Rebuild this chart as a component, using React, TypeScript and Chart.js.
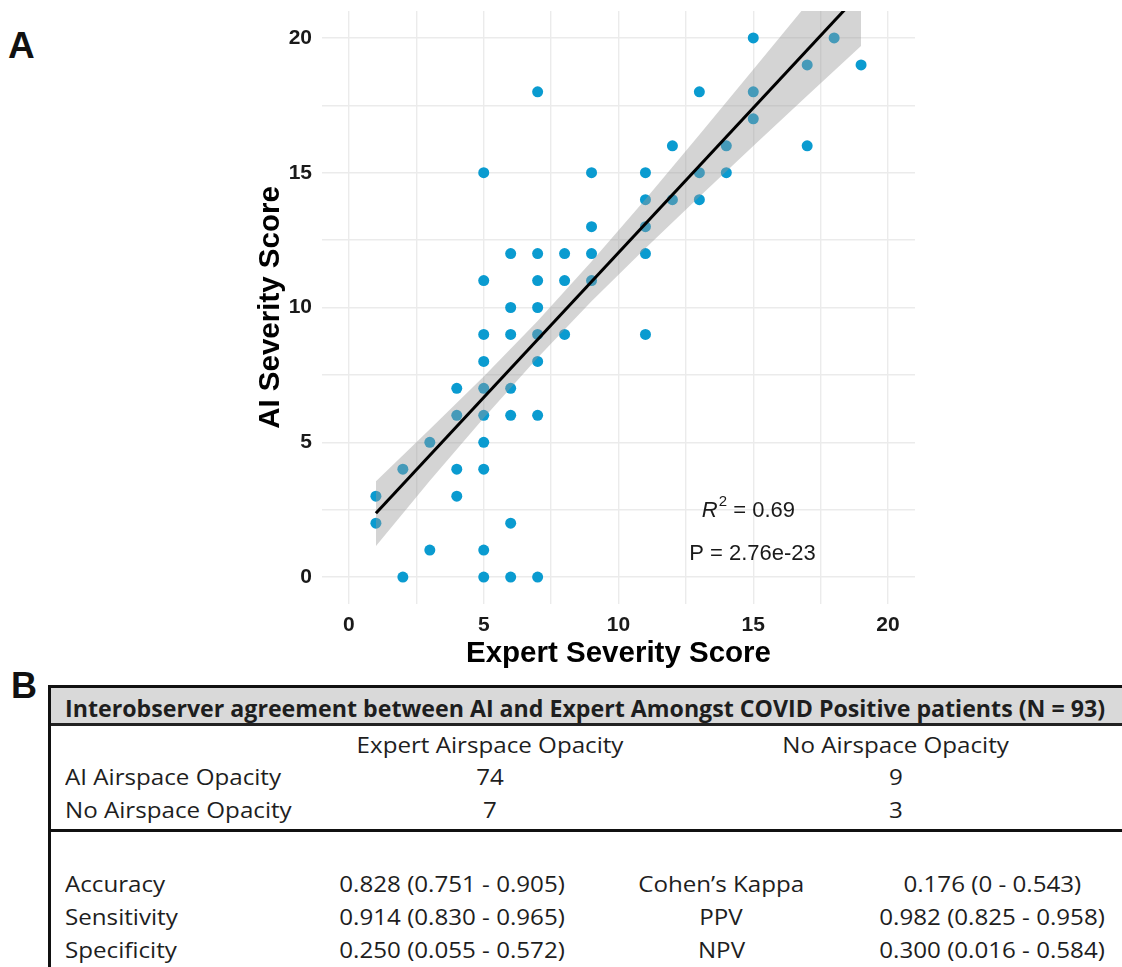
import React, { useEffect, useRef } from 'react';
import { Chart, registerables } from 'chart.js';

Chart.register(...registerables);

// ---------- chart data ----------
const expertScores = [
  1, 1,
  2, 2,
  3, 3,
  4, 4, 4, 4,
  5, 5, 5, 5, 5, 5, 5, 5, 5, 5,
  6, 6, 6, 6, 6, 6, 6,
  7, 7, 7, 7, 7, 7, 7, 7,
  8, 8, 8,
  9, 9, 9, 9,
  11, 11, 11, 11, 11,
  12, 12,
  13, 13, 13,
  14, 14,
  15, 15, 15,
  17, 17,
  18,
  19,
];
const aiScores = [
  3, 2,
  4, 0,
  5, 1,
  7, 6, 4, 3,
  15, 11, 9, 8, 7, 6, 5, 4, 1, 0,
  12, 10, 9, 7, 6, 2, 0,
  18, 12, 11, 10, 9, 8, 6, 0,
  12, 11, 9,
  15, 13, 12, 11,
  15, 14, 13, 12, 9,
  16, 14,
  18, 15, 14,
  16, 15,
  20, 18, 17,
  19, 16,
  20,
  19,
];

const fitX = [1, 19];
const fitY = [2.37, 21.7];

const bandX = [1, 3, 5, 7, 9, 11, 13, 15, 17, 19];
const bandLow = [1.15, 3.57, 5.9, 8.14, 10.23, 12.2, 14.11, 15.99, 17.86, 19.7];
const bandHigh = [3.55, 5.48, 7.44, 9.5, 11.71, 14.02, 16.41, 18.83, 21.26, 23.7];

const gridTicks = [0, 2.5, 5, 7.5, 10, 12.5, 15, 17.5, 20];
const labeledTicks = [0, 5, 10, 15, 20];

const r2Value = '0.69';
const pText = 'P = 2.76e-23';
const annX = [14.82, 14.97];
const annY = [2.23, 0.63];

// ---------- table data ----------
const tableTitle = 'Interobserver agreement between AI and Expert Amongst COVID Positive patients (N = 93)';
const contingencyColumns = ['Expert Airspace Opacity', 'No Airspace Opacity'];
const contingencyRowLabels = ['AI Airspace Opacity', 'No Airspace Opacity'];
const contingencyCounts = [
  [74, 9],
  [7, 3],
];
const statLabelsLeft = ['Accuracy', 'Sensitivity', 'Specificity'];
const statValuesLeft = ['0.828 (0.751 - 0.905)', '0.914 (0.830 - 0.965)', '0.250 (0.055 - 0.572)'];
const statLabelsRight = ['Cohen\u2019s Kappa', 'PPV', 'NPV'];
const statValuesRight = ['0.176 (0 - 0.543)', '0.982 (0.825 - 0.958)', '0.300 (0.016 - 0.584)'];

// ---------- styles ----------
const chartFamily = "'Liberation Sans', Arial, Helvetica, sans-serif";
const tableFamily = "'Open Sans', 'Noto Sans', sans-serif";
const pointColor = '#0a9bd0';

const statsPlugin = {
  id: 'statsText',
  afterDatasetsDraw(chart: any) {
    const { ctx, scales } = chart;
    const xs = scales.x;
    const ys = scales.y;
    ctx.save();
    ctx.fillStyle = '#1a1a1a';
    ctx.textBaseline = 'alphabetic';
    ctx.textAlign = 'left';
    const fMain = `22px ${chartFamily}`;
    const fItal = `italic 22px ${chartFamily}`;
    const fSup = `15px ${chartFamily}`;
    ctx.font = fItal;
    const wR = ctx.measureText('R').width;
    ctx.font = fSup;
    const w2 = ctx.measureText('2').width;
    ctx.font = fMain;
    const rest = ' = ' + r2Value;
    const wRest = ctx.measureText(rest).width;
    const total = wR + 1 + w2 + wRest;
    let px = xs.getPixelForValue(annX[0]) - total / 2;
    const by = ys.getPixelForValue(annY[0]);
    ctx.font = fItal;
    ctx.fillText('R', px, by);
    px += wR + 1;
    ctx.font = fSup;
    ctx.fillText('2', px, by - 11);
    px += w2;
    ctx.font = fMain;
    ctx.fillText(rest, px, by);
    ctx.textAlign = 'center';
    ctx.fillText(pText, xs.getPixelForValue(annX[1]), ys.getPixelForValue(annY[1]));
    ctx.restore();
  },
};

let measureCtx: CanvasRenderingContext2D | null = null;
function measure(text: string, font: string) {
  if (!measureCtx) measureCtx = document.createElement('canvas').getContext('2d');
  measureCtx!.font = font;
  return measureCtx!.measureText(text).width;
}

const REG = 21;
const HDR = 23;

function Cell(props: { text: string; x: number; base: number; align: 'left' | 'center'; bold?: boolean; k: number }) {
  const size = props.bold ? HDR : REG;
  const font = `${props.bold ? 'bold ' : ''}${size}px ${tableFamily}`;
  const w = measure(props.text, font);
  const left = props.align === 'left' ? props.x : props.x - w / 2;
  return (
    <div
      style={{
        position: 'absolute',
        left,
        top: props.base - 0.888 * size,
        fontFamily: tableFamily,
        fontSize: size,
        fontWeight: props.bold ? 700 : 400,
        lineHeight: `${size}px`,
        whiteSpace: 'nowrap',
        color: '#1e1e1e',
        transform: `scaleX(${props.k})`,
        transformOrigin: props.align === 'left' ? 'left center' : 'center center',
      }}
    >
      {props.text}
    </div>
  );
}

function Table() {
  const kReg = 216 / measure('AI Airspace Opacity', `${REG}px ${tableFamily}`);
  const kHdr = 1040 / measure(tableTitle, `bold ${HDR}px ${tableFamily}`);
  const colCenters = [490, 896];
  const rowBases = [786, 819];
  const statBases = [893, 926, 959];
  const cells: any[] = [];
  cells.push(<Cell key="title" text={tableTitle} x={65} base={717} align="left" bold k={kHdr} />);
  contingencyColumns.forEach((c, i) =>
    cells.push(<Cell key={'cc' + i} text={c} x={colCenters[i]} base={754} align="center" k={kReg} />)
  );
  contingencyRowLabels.forEach((r, i) => {
    cells.push(<Cell key={'rl' + i} text={r} x={65} base={rowBases[i]} align="left" k={kReg} />);
    contingencyCounts[i].forEach((v, j) =>
      cells.push(<Cell key={'cv' + i + j} text={String(v)} x={colCenters[j]} base={rowBases[i]} align="center" k={kReg} />)
    );
  });
  statLabelsLeft.forEach((s, i) => {
    cells.push(<Cell key={'sl' + i} text={s} x={65} base={statBases[i]} align="left" k={kReg} />);
    cells.push(<Cell key={'sv' + i} text={statValuesLeft[i]} x={452} base={statBases[i]} align="center" k={kReg} />);
    cells.push(<Cell key={'rl2' + i} text={statLabelsRight[i]} x={721} base={statBases[i]} align="center" k={kReg} />);
    cells.push(<Cell key={'rv' + i} text={statValuesRight[i]} x={992} base={statBases[i]} align="center" k={kReg} />);
  });
  return (
    <>
      <div style={{ position: 'absolute', left: 51, top: 688, width: 1100, height: 35, background: '#d9d9d9' }} />
      <div style={{ position: 'absolute', left: 48, top: 685, width: 1100, height: 3, background: '#111' }} />
      <div style={{ position: 'absolute', left: 48, top: 685, width: 3, height: 300, background: '#111' }} />
      <div style={{ position: 'absolute', left: 51, top: 723, width: 1100, height: 3, background: '#222' }} />
      <div style={{ position: 'absolute', left: 51, top: 829, width: 1100, height: 3, background: '#111' }} />
      {cells}
    </>
  );
}

export default function App() {
  const canvasRef = useRef<HTMLCanvasElement>(null);

  useEffect(() => {
    const points = expertScores.map((x, i) => ({ x, y: aiScores[i] }));
    const fit = fitX.map((x, i) => ({ x, y: fitY[i] }));
    const low = bandX.map((x, i) => ({ x, y: bandLow[i] }));
    const high = bandX.map((x, i) => ({ x, y: bandHigh[i] }));
    const tickFont = { family: chartFamily, size: 21, weight: 'bold' as const, lineHeight: 1 };
    const titleFont = { family: chartFamily, size: 29.5, weight: 'bold' as const, lineHeight: 1 };
    const grid = { color: '#ebebeb', lineWidth: 1.4, drawTicks: false };

    const chart = new Chart(canvasRef.current!, {
      type: 'scatter',
      data: {
        datasets: [
          {
            type: 'line',
            data: fit,
            borderColor: '#000',
            borderWidth: 3,
            pointRadius: 0,
            fill: false,
            order: 0,
            clip: 0,
          } as any,
          {
            type: 'line',
            data: low,
            borderWidth: 0,
            borderColor: 'rgba(0,0,0,0)',
            pointRadius: 0,
            fill: false,
            order: 1,
            clip: 0,
          } as any,
          {
            type: 'line',
            data: high,
            borderWidth: 0,
            borderColor: 'rgba(0,0,0,0)',
            backgroundColor: 'rgba(153,153,153,0.42)',
            pointRadius: 0,
            fill: '-1',
            order: 1,
            clip: 0,
          } as any,
          {
            type: 'scatter',
            data: points,
            backgroundColor: pointColor,
            borderWidth: 0,
            pointRadius: 5.5,
            order: 2,
          } as any,
        ],
      },
      options: {
        responsive: false,
        animation: false,
        layout: { padding: { left: 0, right: 15, top: 11, bottom: 0 } },
        plugins: {
          legend: { display: false },
          tooltip: { enabled: false },
        },
        scales: {
          x: {
            type: 'linear',
            min: -1,
            max: 21,
            grid,
            border: { display: false },
            afterBuildTicks: (s: any) => {
              s.ticks = gridTicks.map((v) => ({ value: v }));
            },
            afterFit: (s: any) => {
              s.height = 76;
              s.paddingLeft = 0;
              s.paddingRight = 0;
            },
            ticks: {
              autoSkip: false,
              maxRotation: 0,
              padding: 10.5,
              color: '#1a1a1a',
              font: tickFont,
              callback: (v: any) => (labeledTicks.includes(Number(v)) ? String(v) : ''),
            },
            title: {
              display: true,
              text: 'Expert Severity Score',
              color: '#000',
              font: titleFont,
              padding: { top: 0, bottom: 11.5 },
            },
          },
          y: {
            type: 'linear',
            min: -1,
            max: 21,
            grid,
            border: { display: false },
            afterBuildTicks: (s: any) => {
              s.ticks = gridTicks.map((v) => ({ value: v }));
            },
            afterFit: (s: any) => {
              s.width = 92;
              s.paddingTop = 0;
              s.paddingBottom = 0;
            },
            ticks: {
              autoSkip: false,
              padding: 10,
              color: '#1a1a1a',
              font: tickFont,
              callback: (v: any) => (labeledTicks.includes(Number(v)) ? String(v) : ''),
            },
            title: {
              display: true,
              text: 'AI Severity Score',
              color: '#000',
              font: titleFont,
              padding: { top: 26, bottom: 0 },
            },
          },
        },
      } as any,
      plugins: [statsPlugin],
    });
    return () => chart.destroy();
  }, []);

  return (
    <div
      style={{
        position: 'absolute',
        left: 0,
        top: 0,
        width: 1122,
        height: 967,
        overflow: 'hidden',
        background: '#fff',
      }}
    >
      <div style={{ position: 'absolute', left: 8, top: 27, fontFamily: chartFamily, fontWeight: 700, fontSize: 37, lineHeight: '37px', color: '#111' }}>
        A
      </div>
      <div style={{ position: 'absolute', left: 11, top: 668, fontFamily: chartFamily, fontWeight: 700, fontSize: 36, lineHeight: '36px', color: '#111' }}>
        B
      </div>
      <canvas
        ref={canvasRef}
        width={700}
        height={680}
        style={{ position: 'absolute', left: 230, top: 0, width: 700, height: 680 }}
      />
      <Table />
    </div>
  );
}
